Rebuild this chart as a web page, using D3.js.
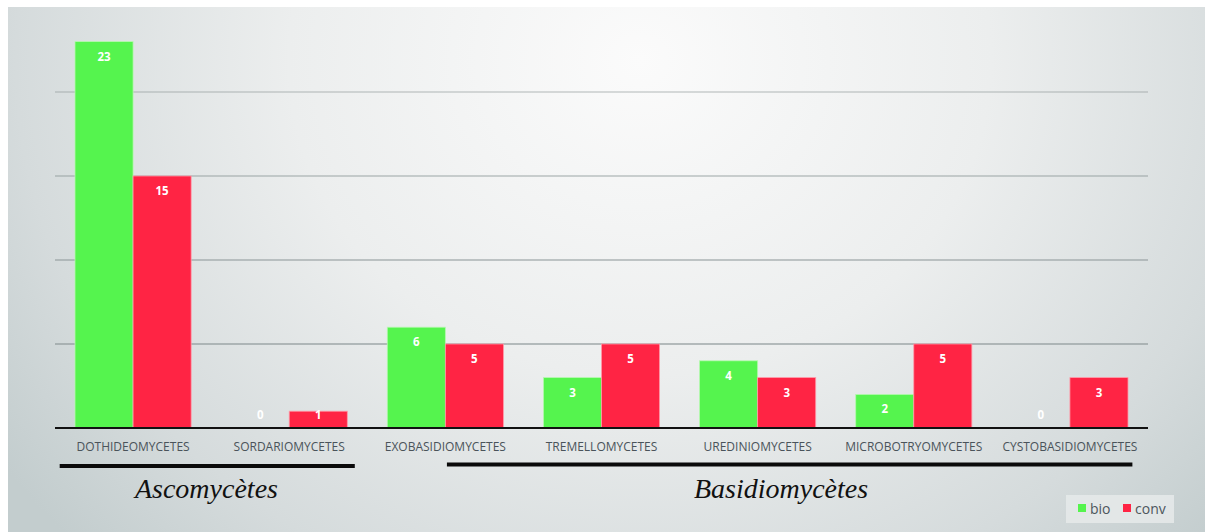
<!DOCTYPE html>
<html><head><meta charset="utf-8">
<script src="https://cdn.jsdelivr.net/npm/d3@7"></script>
<style>html,body{margin:0;padding:0;background:#fff;}svg{display:block;}</style>
</head><body>
<svg id="c" width="1205" height="532"></svg>
<script>
const categories = ["DOTHIDEOMYCETES","SORDARIOMYCETES","EXOBASIDIOMYCETES","TREMELLOMYCETES","UREDINIOMYCETES","MICROBOTRYOMYCETES","CYSTOBASIDIOMYCETES"];
const seriesNames = ["bio","conv"];
const bio  = [23, 0, 6, 3, 4, 2, 0];
const conv = [15, 1, 5, 5, 3, 5, 3];
const yTicks = [0, 5, 10, 15, 20, 25];
const groupNames = ["Ascomycètes", "Basidiomycètes"];
const groupSpans = [[0.03, 1.92, 0.97], [2.51, 6.9, 4.65]]; // start, end, label centre (category units)

const colors = {bio: "#55f44e", conv: "#ff2444"};
const svg = d3.select("#c");
const W = 1205, H = 532;

// background
const defs = svg.append("defs");
const rg = defs.append("radialGradient").attr("id","bg")
  .attr("gradientUnits","userSpaceOnUse").attr("cx",640).attr("cy",60).attr("r",780)
  .attr("gradientTransform","translate(640,60) scale(1,0.9) translate(-640,-60)");
rg.append("stop").attr("offset","0").attr("stop-color","#fbfbfb");
rg.append("stop").attr("offset","0.45").attr("stop-color","#eceeee");
rg.append("stop").attr("offset","0.8").attr("stop-color","#d5dbdc");
rg.append("stop").attr("offset","1").attr("stop-color","#c3cdce");
svg.append("rect").attr("x",8).attr("y",7).attr("width",W-8).attr("height",H-7).attr("fill","url(#bg)");

const x0 = d3.scaleBand().domain(categories).range([55,1148]).padding(0);
const x1 = d3.scaleBand().domain(seriesNames).range([20, x0.bandwidth()-20]).padding(0);
const y = d3.scaleLinear().domain([0,25]).range([428,8]);
const xi = d3.scaleLinear().domain([0,7]).range([55,1148]);

// gridlines
svg.append("g").selectAll("line").data(yTicks.filter(t => t>0 && t<25)).join("line")
  .attr("x1",55).attr("x2",1148).attr("y1",d=>y(d)).attr("y2",d=>y(d))
  .attr("stroke","#8f999a").attr("stroke-opacity",d=>0.45 + (20-d)*0.025).attr("stroke-width",1.5);

const rows = categories.map((c,i)=>({cat:c, vals:[{s:"bio",v:bio[i]},{s:"conv",v:conv[i]}]}));
const g = svg.append("g").selectAll("g").data(rows).join("g")
  .attr("transform", d=>`translate(${x0(d.cat)},0)`);
g.selectAll("rect").data(d=>d.vals.filter(e=>e.v>0)).join("rect")
  .attr("x",d=>x1(d.s)).attr("width",x1.bandwidth())
  .attr("y",d=>y(d.v)).attr("height",d=>y(0)-y(d.v))
  .attr("fill",d=>colors[d.s])
  .attr("stroke", d=> d.s==="bio" ? "#b6f8b0" : "#ff9aa8").attr("stroke-width",0.8);
g.selectAll("text").data(d=>d.vals).join("text")
  .attr("x",d=>x1(d.s)+x1.bandwidth()/2)
  .attr("y",d=>Math.min(y(d.v)+19, y(0)-9))
  .attr("text-anchor","middle")
  .attr("font-family","'Open Sans', sans-serif").attr("font-weight","bold").attr("font-size",11.5)
  .attr("fill","#ffffff").text(d=>d.v);

// baseline axis
const xAxis = svg.append("g").attr("transform",`translate(0,${y(0)})`)
  .call(d3.axisBottom(x0).tickSize(0).tickPadding(14));
xAxis.select(".domain").attr("stroke","#111").attr("stroke-width",2).attr("d","M55,0H1148");
xAxis.selectAll("text").attr("font-family","'Open Sans', sans-serif").attr("font-size",12)
  .attr("fill","#4a535a");

// group annotations
const gg = svg.append("g").selectAll("g").data(groupNames.map((n,i)=>({n, s:groupSpans[i]}))).join("g");
gg.append("line").attr("x1",d=>xi(d.s[0])).attr("x2",d=>xi(d.s[1]))
  .attr("y1",(d,i)=>466-i*1.5).attr("y2",(d,i)=>466-i*1.5)
  .attr("stroke","#0a0a0a").attr("stroke-width",4);
gg.append("text").attr("x",d=>xi(d.s[2])).attr("y",498).attr("text-anchor","middle")
  .attr("font-family","'Liberation Serif', 'Times New Roman', serif").attr("font-style","italic")
  .attr("font-size",28).attr("fill","#111").text(d=>d.n);

// legend
const lg = svg.append("g");
lg.append("rect").attr("x",1066).attr("y",495).attr("width",108).attr("height",28).attr("fill","#e6eaea").attr("opacity",0.85);
const items = lg.selectAll("g").data(seriesNames).join("g")
  .attr("transform",(d,i)=>`translate(${i===0?1078:1123},0)`);
items.append("rect").attr("x",0).attr("y",504).attr("width",8).attr("height",8).attr("fill",d=>colors[d]);
items.append("text").attr("x",12).attr("y",514).attr("font-family","'Open Sans', sans-serif")
  .attr("font-size",14).attr("fill","#4d565c").text(d=>d);
</script>
</body></html>
